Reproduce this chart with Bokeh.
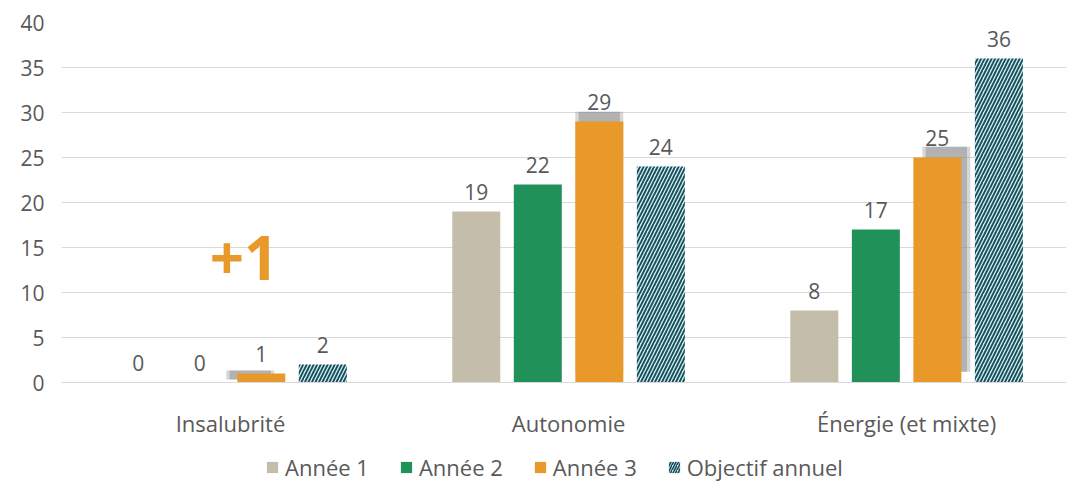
from bokeh.plotting import figure
from bokeh.layouts import column
from bokeh.models import ColumnDataSource, Range1d, FixedTicker, Legend, LegendItem, Label
from bokeh.core.properties import value
from bokeh.embed import file_html
from bokeh.resources import INLINE

categories = ["Insalubrité", "Autonomie", "Énergie (et mixte)"]
series = ["Année 1", "Année 2", "Année 3", "Objectif annuel"]
annee1 = [0, 19, 8]
annee2 = [0, 22, 17]
annee3 = [1, 29, 25]
objectif = [2, 24, 36]
y_ticks = [0, 5, 10, 15, 20, 25, 30, 35, 40]
annotation_text = "+1"

FONT = "Open Sans"
TXT = "#595959"
GRID = "#d9d9d9"

LEFT_PAD = 17
W, H = 1066 - LEFT_PAD, 440
MT, MB = 22, 49
frame_w = 1005
frame_h = H - MT - MB
xr = Range1d(-0.5, 2.473)
yr = Range1d(0, 40)
px_x = (xr.end - xr.start) / frame_w
px_y = (yr.end - yr.start) / frame_h

p = figure(width=W, height=H, x_range=xr, y_range=yr, output_backend="svg",
           toolbar_location=None, min_border_left=0, min_border_top=MT,
           min_border_bottom=MB, min_border_right=0,
           margin=(0, 0, 0, LEFT_PAD))
p.outline_line_color = None
p.background_fill_color = "white"
p.border_fill_color = "white"

offsets = [-0.273, -0.091, 0.091, 0.273]
bw = 0.142
colors = ["#c4bda9", "#21915a", "#e8992a"]
hatch_fill, hatch_col = "#c9eff1", "#1b4b58"
xs = list(range(len(categories)))

# soft shadow behind the Année 3 bars (pixel offsets per category)
shadow_dx_px = [-11, 0, 9]
shadow_dy_px = [3, 10, 11]
sh = ColumnDataSource(dict(
    x=[xs[i] + offsets[2] + shadow_dx_px[i] * px_x for i in range(3)],
    top=[annee3[i] + shadow_dy_px[i] * px_y for i in range(3)],
    bottom=[shadow_dy_px[i] * px_y for i in range(3)]))
p.vbar(x="x", top="top", bottom="bottom", width=bw, source=sh,
       fill_color="#9a9a9a", fill_alpha=0.4, line_color=None)
p.vbar(x="x", top="top", bottom="bottom", width=bw * 0.86, source=sh,
       fill_color="#848484", fill_alpha=0.45, line_color=None)

for k, vals in enumerate([annee1, annee2, annee3, objectif]):
    src = ColumnDataSource(dict(x=[x + offsets[k] for x in xs], top=vals,
                                lbl=[str(v) for v in vals]))
    if k < 3:
        p.vbar(x="x", top="top", width=bw, source=src,
               fill_color=colors[k], line_color=None)
    else:
        p.vbar(x="x", top="top", width=bw, source=src,
               fill_color=hatch_fill, line_color=None,
               hatch_pattern="right_diagonal_line", hatch_color=hatch_col,
               hatch_scale=7, hatch_weight=1.8)
    p.text(x="x", y="top", text="lbl", source=src, text_align="center",
           text_baseline="alphabetic", y_offset=-20,
           text_font=value(FONT), text_font_size="21px", text_color=TXT)

p.add_layout(Label(x=0.04, y=13.8, text=annotation_text, text_align="center",
                   text_baseline="middle", text_font=FONT, text_font_size="60px",
                   text_font_style="bold", text_color="#e8992a"))

p.xaxis.ticker = FixedTicker(ticks=xs)
p.xaxis.major_label_overrides = {i: c for i, c in enumerate(categories)}
p.xaxis.axis_line_color = GRID
p.xaxis.major_tick_line_color = None
p.xaxis.minor_tick_line_color = None
p.xaxis.major_label_standoff = 19
p.xaxis.major_label_text_font = FONT
p.xaxis.major_label_text_font_size = "22px"
p.xaxis.major_label_text_color = TXT
p.xgrid.grid_line_color = None

p.yaxis.ticker = FixedTicker(ticks=y_ticks)
p.yaxis.axis_line_color = None
p.yaxis.major_tick_line_color = None
p.yaxis.minor_tick_line_color = None
p.yaxis.major_tick_in = 0
p.yaxis.major_tick_out = 0
p.yaxis.major_label_standoff = 17
p.yaxis.major_label_text_font = FONT
p.yaxis.major_label_text_font_size = "21px"
p.yaxis.major_label_text_color = TXT
p.ygrid.grid_line_color = GRID

# legend strip below the chart (frame aligned with the chart's frame)
LH = 484 - H
q = figure(width=W, height=LH, x_range=Range1d(0, 1), y_range=Range1d(0, 1),
           output_backend="svg", toolbar_location=None,
           min_border=0, min_border_left=0, min_border_right=0,
           min_border_top=0, min_border_bottom=0,
           margin=(0, 0, 0, LEFT_PAD))
q.axis.visible = False
q.grid.grid_line_color = None
q.outline_line_color = None
items = []
for k in range(4):
    dsrc = ColumnDataSource(dict(x=[-5], top=[0]))
    if k < 3:
        d = q.vbar(x="x", top="top", width=0.1, source=dsrc,
                   fill_color=colors[k], line_color=None)
    else:
        d = q.vbar(x="x", top="top", width=0.1, source=dsrc,
                   fill_color=hatch_fill, line_color=None,
                   hatch_pattern="right_diagonal_line", hatch_color=hatch_col,
                   hatch_scale=5, hatch_weight=1.6)
    items.append(LegendItem(label=series[k], renderers=[d]))
legend = Legend(items=items, orientation="horizontal", location=(204, 2),
                glyph_width=14, glyph_height=14, label_standoff=6, spacing=30,
                padding=0, margin=0, border_line_color=None,
                background_fill_alpha=0,
                label_text_font=FONT, label_text_font_size="22px",
                label_text_color=TXT)
q.add_layout(legend)

layout = column(p, q, spacing=0)
open("out.html", "w").write(file_html(layout, INLINE))
